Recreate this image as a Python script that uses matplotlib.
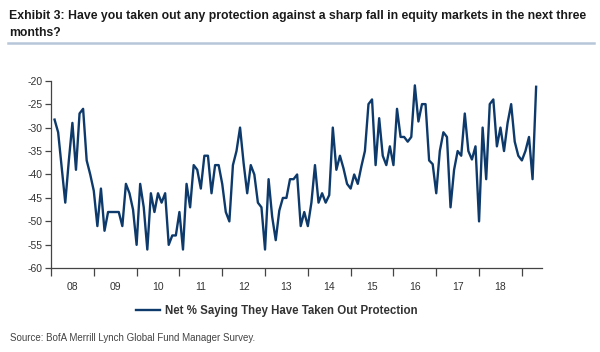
import matplotlib
matplotlib.use("Agg")
import matplotlib.pyplot as plt
import numpy as np

plt.rcParams['font.family'] = ['Liberation Sans', 'DejaVu Sans']

# Monthly survey values, Jan 2008 - Apr 2019
start_year = 2008
values = [
    -28.3, -31, -38.5, -46, -37, -29, -39, -27, -26, -37, -40, -43.5,   # 2008
    -51, -43, -52, -48, -48, -48, -48, -51, -42, -44, -47.5, -55,       # 2009
    -42, -47, -56, -44, -48, -44, -46, -44, -55, -53, -53, -48,         # 2010
    -56, -42, -47, -38, -39, -43, -36, -36, -44, -38, -38, -42,         # 2011
    -48, -50, -38, -35, -30, -37.6, -44, -38, -40, -46, -47, -56,       # 2012
    -41, -49, -54, -47.7, -45, -45, -41, -41, -40, -51, -48, -51,       # 2013
    -46, -38, -46, -44, -46, -44.4, -30, -39, -36, -38.7, -42, -43,     # 2014
    -40, -42, -38.3, -35, -25, -24, -38, -28, -36, -38, -34, -38,       # 2015
    -26, -32, -32, -33, -32, -21, -28.7, -25, -25, -37, -37.8, -44,     # 2016
    -35, -31, -32, -47, -39, -35, -36, -27, -35, -36.8, -34, -50,       # 2017
    -30, -41, -25, -24, -34, -30, -35, -29, -25, -33, -36, -37,         # 2018
    -35, -32, -41, -21.3,                                               # 2019
]
year_labels = ['08', '09', '10', '11', '12', '13', '14', '15', '16', '17', '18']
y_ticks = [-60, -55, -50, -45, -40, -35, -30, -25, -20]
series_label = 'Net % Saying They Have Taken Out Protection'
title = ('Exhibit 3: Have you taken out any protection against a sharp fall in equity markets in the next three\n'
         'months?')
source = 'Source: BofA Merrill Lynch Global Fund Manager Survey.'

x = start_year + (np.arange(len(values)) + 1) / 12.0

fig = plt.figure(figsize=(6.0, 3.52), dpi=100)
ax = fig.add_axes([0.085, 0.2378, 0.8183, 0.5330])

line, = ax.plot(x, values, color='#0d3a6b', lw=1.7, solid_joinstyle='round')

ax.set_xlim(2008, 2019.47)
ax.set_ylim(-60, -20)

for s in ['top', 'right']:
    ax.spines[s].set_visible(False)
for s in ['left', 'bottom']:
    ax.spines[s].set_color('#444444')
    ax.spines[s].set_linewidth(0.9)

ax.set_yticks(y_ticks)
ax.set_yticklabels([str(v) for v in y_ticks])
ax.tick_params(axis='y', direction='out', length=4, width=0.9, color='#444444',
               labelsize=7.5, labelcolor='#333333', pad=2)

years = np.arange(2008, 2020)
ax.set_xticks(years)
ax.set_xticklabels([''] * len(years))
ax.set_xticks(np.arange(2008.5, 2019.0, 1.0), minor=True)
ax.set_xticklabels(year_labels, minor=True)
ax.tick_params(axis='x', which='major', direction='out', length=6, width=0.9, color='#444444')
ax.tick_params(axis='x', which='minor', length=0, labelsize=7.5, labelcolor='#333333', pad=10)

fig.text(0.015, 0.972, title, ha='left', va='top', fontsize=8.8, fontweight='bold',
         color='#1a1a1a', linespacing=1.6)
fig.add_artist(plt.Line2D([0.014, 0.99], [0.878, 0.878], color='#b7c6d8', lw=1.8))

fig.legend([line], [series_label], loc='center', bbox_to_anchor=(0.462, 0.117),
           frameon=False, handlelength=2.0, handletextpad=0.5,
           prop={'weight': 'bold', 'size': 8.3}, labelcolor='#333333')

fig.text(0.016, 0.04, source, ha='left', va='center', fontsize=7.0, color='#444444')

fig.savefig('out.png', dpi=100)
